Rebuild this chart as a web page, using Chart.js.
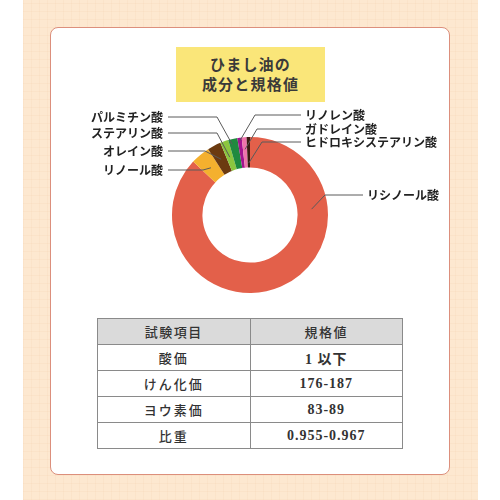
<!DOCTYPE html>
<html>
<head>
<meta charset="utf-8">
<script src="https://cdn.jsdelivr.net/npm/chart.js@4/dist/chart.umd.min.js"></script>
<style>
  html, body { margin: 0; padding: 0; }
  body {
    width: 500px; height: 500px; position: relative; overflow: hidden;
    background: #fff;
    font-family: "Noto Sans CJK JP", sans-serif;
  }
  .bg {
    position: absolute; left: 23px; top: 0; width: 455px; height: 500px;
    background-color: #fde8d0;
    background-image:
      repeating-linear-gradient(0deg, rgba(240,205,170,0.18) 0 1px, transparent 1px 8px),
      repeating-linear-gradient(90deg, rgba(240,205,170,0.18) 0 1px, transparent 1px 8px);
  }
  .card {
    position: absolute; left: 50px; top: 27px; width: 398px; height: 446px;
    background: #fff; border: 1.5px solid #dc8f7c; border-radius: 8px;
  }
  .title {
    position: absolute; left: 176px; top: 47px; width: 149px; height: 55px;
    background: #fae679; color: #3a3a3a; text-align: center;
    font-size: 15px; font-weight: 700; line-height: 20px; letter-spacing: 1.2px;
    padding-top: 7px; box-sizing: border-box;
  }
  #wrap { position: absolute; left: 50px; top: 100px; width: 400px; height: 210px; }
  table {
    position: absolute; left: 97px; top: 318px; width: 306px;
    border-collapse: collapse;
    font-family: "Liberation Serif", "Noto Sans CJK JP", serif;
    font-size: 14px; font-weight: 700; color: #333;
  }
  td, th { border: 1px solid #8a8a8a; height: 25px; padding: 0; text-align: center; width: 50%; }
  th { background: #dadada; font-size: 13px; font-weight: 500; letter-spacing: 1.5px; }
  td.item { font-size: 13px; font-weight: 500; letter-spacing: 2px; }
  td.valor { letter-spacing: 1px; }
</style>
</head>
<body>
<div class="bg"></div>
<div class="card"></div>
<div class="title">ひまし油の<br>成分と規格値</div>
<div id="wrap"><canvas id="grafico"></canvas></div>
<table id="tabla"></table>
<script>
// Datos: composición de ácidos grasos (%)
const acidos = ["リシノール酸", "リノール酸", "オレイン酸", "ステアリン酸", "パルミチン酸", "リノレン酸", "ガドレイン酸", "ヒドロキシステアリン酸"];
const porcentajes = [87, 4, 2.8, 1.7, 1.9, 0.9, 1.0, 0.7];
const colores = ["#e3604a", "#f4b02e", "#6b3a10", "#8cc63f", "#1f8a3f", "#a3148f", "#ef74ac", "#3b1c12"];

// Tabla de especificaciones
const items = ["酸価", "けん化価", "ヨウ素価", "比重"];
const valores = ["1 以下", "176-187", "83-89", "0.955-0.967"];
const cabecera = ["試験項目", "規格値"];

// Posición de las etiquetas (coordenadas del canvas)
// lado, y del texto, x del codo, t sobre el arco, fracción radial
const etiquetas = [
  { lado: "der", y: 95, codo: 275, t: 0.27, f: 0.47 },
  { lado: "izq", y: 70, codo: 153, t: 0.5, f: 0.45 },
  { lado: "izq", y: 51, codo: 155, t: 0.5, f: 0.5 },
  { lado: "izq", y: 33, codo: 167, t: 0.5, f: 0.45 },
  { lado: "izq", y: 17, codo: 167, t: 0.3, f: 0.83 },
  { lado: "der", y: 15, codo: 205, t: 0.5, f: 0.9 },
  { lado: "der", y: 29, codo: 207, t: 0.5, f: 0.6 },
  { lado: "der", y: 42, codo: 212, t: 0.5, f: 0.15 },
];

// Arma la tabla
const tabla = document.getElementById("tabla");
tabla.innerHTML =
  "<tr><th>" + cabecera[0] + "</th><th>" + cabecera[1] + "</th></tr>" +
  items.map((it, i) => "<tr><td class='item'>" + it + "</td><td class='valor'>" + valores[i] + "</td></tr>").join("");

// Plugin que dibuja las etiquetas con líneas guía
const lineasGuia = {
  id: "lineasGuia",
  afterDraw(chart) {
    const ctx = chart.ctx;
    const arcos = chart.getDatasetMeta(0).data;
    ctx.save();
    ctx.font = "bold 12px 'Noto Sans CJK JP', sans-serif";
    ctx.textBaseline = "middle";
    ctx.strokeStyle = "#5a5a5a";
    ctx.lineWidth = 1;
    arcos.forEach((arc, i) => {
      const e = etiquetas[i];
      const p = arc.getProps(["x", "y", "startAngle", "endAngle", "innerRadius", "outerRadius"], true);
      const ang = p.startAngle + e.t * (p.endAngle - p.startAngle);
      const r = p.innerRadius + e.f * (p.outerRadius - p.innerRadius);
      const px = p.x + r * Math.cos(ang);
      const py = p.y + r * Math.sin(ang);
      let inicio, textoX;
      if (e.lado === "izq") {
        inicio = 118; textoX = 113; ctx.textAlign = "right";
      } else {
        inicio = e.codo > 250 ? 313 : 251;
        textoX = e.codo > 250 ? 317 : 255;
        ctx.textAlign = "left";
      }
      ctx.beginPath();
      ctx.moveTo(inicio, e.y);
      ctx.lineTo(e.codo, e.y);
      ctx.lineTo(px, py);
      ctx.stroke();
      ctx.fillStyle = "#222";
      ctx.fillText(acidos[i], textoX, e.y);
    });
    ctx.restore();
  },
};

new Chart(document.getElementById("grafico"), {
  type: "doughnut",
  data: {
    labels: acidos,
    datasets: [
      {
        data: porcentajes,
        backgroundColor: colores,
        borderWidth: 0,
      },
    ],
  },
  options: {
    responsive: true,
    maintainAspectRatio: false,
    animation: false,
    cutout: "61%",
    layout: { padding: { left: 122, right: 122, top: 37, bottom: 17 } },
    plugins: {
      legend: { display: false },
      tooltip: { enabled: false },
    },
  },
  plugins: [lineasGuia],
});
</script>
</body>
</html>
